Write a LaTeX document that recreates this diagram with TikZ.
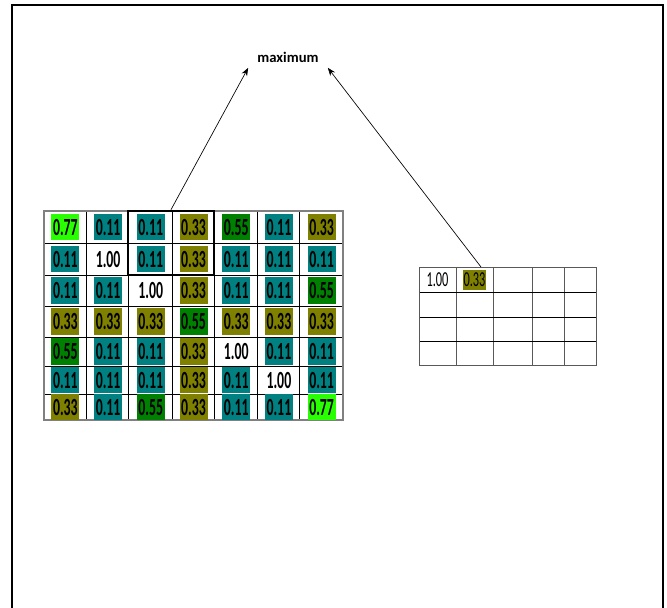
\documentclass[tikz,border=0pt]{standalone}
\usepackage{fontspec}
\setmainfont{Carlito}
\newfontfamily\celdafont[FakeStretch=0.56]{Carlito}
\newfontfamily\celdafontb[FakeStretch=0.58]{Carlito}
\usetikzlibrary{arrows.meta}

\definecolor{lima}{RGB}{40,255,0}
\definecolor{verde}{RGB}{0,128,0}
\definecolor{azulverde}{RGB}{0,128,128}
\definecolor{oliva}{RGB}{128,128,0}

\tikzset{
  celda/.style={inner sep=0pt, minimum width=21pt, minimum height=20pt,
    font=\celdafont\fontsize{18.5}{20}\selectfont\bfseries},
  celdachica/.style={inner sep=0pt, minimum width=17.25pt, minimum height=15pt,
    font=\celdafontb\fontsize{16}{18}\selectfont},
  flecha/.style={-{Stealth[length=6pt,width=4.5pt]}, line width=0.5pt}
}

\begin{document}
\begin{tikzpicture}[x=0.75pt,y=-0.75pt]
        \useasboundingbox (0,0) rectangle (667,607);

        % Marco
        \draw[line width=1.1pt] (12,612) -- (12,5) -- (663,5) -- (663,612);

        % Matriz de la izquierda
        \foreach \xl in {86,128,172,214,257,299}
          \draw[line width=0.6pt] (\xl,211) -- (\xl,420);
        \foreach \yl in {243,275,306,337,366,394}
          \draw[line width=0.6pt] (44,\yl) -- (343,\yl);
        \draw[gray, line width=0.8pt] (44,211) rectangle (343,420);

        \foreach \fila [count=\i from 0] in {
            {0.77/lima,0.11/azulverde,0.11/azulverde,0.33/oliva,0.55/verde,0.11/azulverde,0.33/oliva},
            {0.11/azulverde,1.00/white,0.11/azulverde,0.33/oliva,0.11/azulverde,0.11/azulverde,0.11/azulverde},
            {0.11/azulverde,0.11/azulverde,1.00/white,0.33/oliva,0.11/azulverde,0.11/azulverde,0.55/verde},
            {0.33/oliva,0.33/oliva,0.33/oliva,0.55/verde,0.33/oliva,0.33/oliva,0.33/oliva},
            {0.55/verde,0.11/azulverde,0.11/azulverde,0.33/oliva,1.00/white,0.11/azulverde,0.11/azulverde},
            {0.11/azulverde,0.11/azulverde,0.11/azulverde,0.33/oliva,0.11/azulverde,1.00/white,0.11/azulverde},
            {0.33/oliva,0.11/azulverde,0.55/verde,0.33/oliva,0.11/azulverde,0.11/azulverde,0.77/lima}} {
          \pgfmathsetmacro\yc{{227,259,290.5,321.5,351.5,380,407}[\i]}
          \foreach \v/\col [count=\j from 0] in \fila {
            \pgfmathsetmacro\xc{65.4+42.7*\j}
            \node[celda, fill=\col] (L-\i-\j) at (\xc,\yc) {\v};
          }
        }

        % Ventana 2x2
        \node[draw, line width=2pt, inner sep=0pt, minimum width=64.5pt,
          minimum height=48pt] (ventana) at (171,243) {};

        % Matriz de la derecha
        \foreach \xr in {456,493,532,564}
          \draw[gray!70!black, line width=0.6pt] (\xr,267) -- (\xr,365);
        \foreach \yr in {292,317,341}
          \draw[line width=0.7pt] (419,\yr) -- (596,\yr);
        \draw[gray!70!black, line width=0.7pt] (419,267) rectangle (596,365);
        \node[celdachica] (R-0-0) at (437.5,279.5) {1.00};
        \node[celdachica, fill=oliva] (R-0-1) at (474.5,280) {0.33};
        \coordinate (salida) at (481,267);

        % Maximo
        \node[font=\fontsize{11}{13}\selectfont\bfseries, inner xsep=6.75pt,
          inner ysep=4pt] (maximo) at (288,57) {maximum};

        % Flechas
        \draw[flecha] (ventana.north) -- (maximo.south west);
        \draw[flecha] (salida) -- (maximo.south east);
    \end{tikzpicture}
\end{document}
